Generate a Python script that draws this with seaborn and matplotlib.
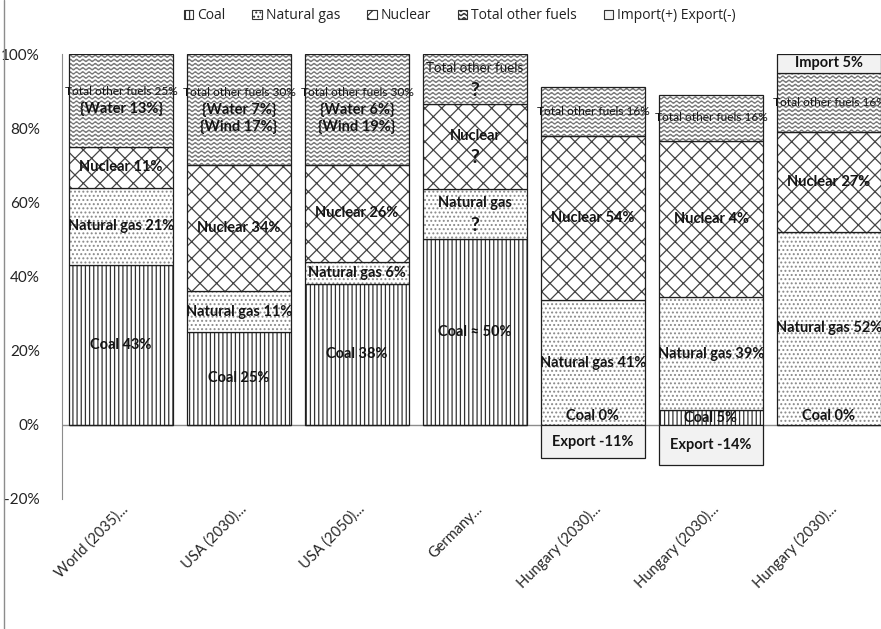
import warnings

import numpy as np
import pandas as pd
import matplotlib
matplotlib.use("Agg")
import matplotlib.pyplot as plt
import matplotlib.hatch as mhatch
import matplotlib.transforms as mtransforms
from matplotlib.path import Path
from matplotlib.patches import Patch
from matplotlib.lines import Line2D
import seaborn as sns

warnings.filterwarnings("ignore")

# ---------------------------------------------------------------- data
categories = ["World (2035)...", "USA (2030)...", "USA (2050)...", "Germany...",
              "Hungary (2030)...", "Hungary (2030)...", "Hungary (2030)..."]

coal = [43, 25, 38, 50, 0, 5, 0]
natural_gas = [21, 11, 6, 13.5, 41, 39, 52]
nuclear = [11, 34, 26, 23, 54, 54, 27]
other_fuels = [25, 30, 30, 13.5, 16, 16, 16]
import_export = [0, 0, 0, 0, -11, -14, 5]

coal_labels = ["Coal 43%", "Coal 25%", "Coal 38%", "Coal ≈ 50%",
               "Coal 0%", "Coal 5%", "Coal 0%"]
gas_labels = ["Natural gas 21%", "Natural gas 11%", "Natural gas 6%",
              "Natural gas\n?", "Natural gas 41%", "Natural gas 39%",
              "Natural gas 52%"]
nuclear_labels = ["Nuclear 11%", "Nuclear 34%", "Nuclear 26%", "Nuclear\n?",
                  "Nuclear 54%", "Nuclear 4%", "Nuclear 27%"]
other_labels = ["Total other fuels 25%\n{Water 13%}",
                "Total other fuels 30%\n{Water 7%}\n{Wind 17%}",
                "Total other fuels 30%\n{Water 6%}\n{Wind 19%}",
                "Total other fuels\n?",
                "Total other fuels 16%", "Total other fuels 16%",
                "Total other fuels 16%"]
trade_labels = ["", "", "", "", "Export -11%", "Export -14%", "Import 5%"]

legend_names = ["Coal", "Natural gas", "Nuclear", "Total other fuels",
                "Import(+) Export(-)"]


# ------------------------------------------------- wavy hatch pattern
class WavyHatch(mhatch.HatchPatternBase):
    """Horizontal wavy lines, selected with '~' in a hatch string."""
    waves = 16
    steps = 128

    def __init__(self, hatch, density):
        self.num_lines = int(hatch.count("~") * density)
        self.num_vertices = self.num_lines * (self.steps + 1)

    def set_vertices_and_codes(self, vertices, codes):
        t = np.linspace(0.0, 1.0, self.steps + 1)
        amp = 0.28 / max(self.num_lines, 1)
        n = self.steps + 1
        for i in range(self.num_lines):
            y0 = (i + 0.5) / self.num_lines
            vertices[i * n:(i + 1) * n, 0] = t
            vertices[i * n:(i + 1) * n, 1] = y0 + amp * np.sin(2 * np.pi * self.waves * t)
            codes[i * n:(i + 1) * n] = Path.LINETO
            codes[i * n] = Path.MOVETO


mhatch._hatch_types.append(WavyHatch)

# ---------------------------------------------------------------- style
sns.set_style("white")
plt.rcParams["font.family"] = ["Lato", "DejaVu Sans"]
plt.rcParams["hatch.linewidth"] = 0.9

# Shares of each column (100 % stacked: divided by the sum of magnitudes)
raw = np.array([coal, natural_gas, nuclear, other_fuels, import_export], dtype=float)
scale = 100.0 / np.abs(raw).sum(axis=0)
shares = raw * scale

pos_bottoms = np.zeros(len(categories))
bottoms = []
for row in shares[:4]:
    bottoms.append(pos_bottoms.copy())
    pos_bottoms += row
bottoms.append(np.where(shares[4] > 0, pos_bottoms, 0.0))

hatches = ["||||", "....", "xx", "~~~~", ""]
hatch_colors = ["#333333", "#8a8a8a", "#444444", "#777777", "#222222"]
faces = ["white", "white", "white", "white", "#f2f2f2"]
series_labels = [coal_labels, gas_labels, nuclear_labels, other_labels, trade_labels]

fig = plt.figure(figsize=(8.81, 6.29), dpi=100)
ax = fig.add_axes([62 / 881, 1 - 499 / 629, 826 / 881, 445 / 629])

bar_width = 0.873
slot = list(range(len(categories)))
for k in range(5):
    df = pd.DataFrame({"slot": slot, "share": shares[k]})
    # hatched fill
    sns.barplot(data=df, x="slot", y="share", ax=ax, errorbar=None,
                width=bar_width, color=faces[k], saturation=1,
                bottom=bottoms[k], hatch=hatches[k] or None,
                edgecolor=hatch_colors[k], linewidth=0)
    # segment outline
    sns.barplot(data=df, x="slot", y="share", ax=ax, errorbar=None,
                width=bar_width, color="black", saturation=1,
                bottom=bottoms[k], facecolor="none",
                edgecolor="#1e1e1e", linewidth=0.9)

ax.axhline(0, color="#8c8c8c", lw=1.0, zorder=0.5)

# ---------------------------------------------------------------- labels
text_color = "#141414"


def line_style(line):
    if line == "?":
        return dict(fontsize=14, fontweight="bold")
    if line.startswith("Total other fuels"):
        size = 8.6 if "%" in line else 9.6
        return dict(fontsize=size, fontweight="normal")
    return dict(fontsize=10.5, fontweight="bold")


for k in range(5):
    for i, label in enumerate(series_labels[k]):
        if not label:
            continue
        share = shares[k][i]
        lines = label.split("\n")
        step = 16 if "?" in lines else 12.5  # points between lines
        if share == 0:
            ax.text(i, 0.4, label, ha="center", va="bottom", color=text_color,
                    **line_style(label))
            continue
        mid = bottoms[k][i] + share / 2
        n = len(lines)
        for j, line in enumerate(lines):
            style = dict(color=text_color)
            style.update(line_style(line))
            ax.annotate(line, xy=(i, mid), xytext=(0, ((n - 1) / 2 - j) * step),
                        textcoords="offset points", ha="center", va="center",
                        annotation_clip=False, **style)

# ---------------------------------------------------------------- axes
ax.set_ylim(-20, 100)
ax.set_xlim(-0.5, len(categories) - 0.5)
ax.set_yticks(np.arange(-20, 101, 20))
ax.set_yticklabels([f"{v}%" for v in range(-20, 101, 20)])
ax.set_xticks(slot)
ax.set_xticklabels(categories, rotation=45, ha="right", rotation_mode="anchor",
                   fontsize=10.5, color="#262626")
offset = mtransforms.ScaledTranslation(14 / 100, 0, fig.dpi_scale_trans)
for lab in ax.get_xticklabels():
    lab.set_transform(lab.get_transform() + offset)
ax.set_xlabel("")
ax.set_ylabel("")
for side in ("top", "right", "bottom"):
    ax.spines[side].set_visible(False)
ax.spines["left"].set_color("#8c8c8c")
ax.tick_params(axis="y", direction="out", length=4, color="#8c8c8c",
               labelsize=11, labelcolor="#222222", pad=12)
ax.tick_params(axis="x", length=0, pad=2)
ax.grid(False)

# ---------------------------------------------------------------- legend
handles = [Patch(facecolor=faces[k], edgecolor="#333333", hatch=hatches[k] or None,
                 linewidth=0.8) for k in range(5)]
fig.legend(handles, legend_names, loc="center", bbox_to_anchor=(0.522, 0.975),
           ncol=5, frameon=False, handlelength=0.7,
           handleheight=0.7, handletextpad=0.3, columnspacing=1.9,
           labelcolor="#222222",
           prop={"family": ["Open Sans", "DejaVu Sans"], "size": 10})

# chart-area border on the left
fig.add_artist(Line2D([3.5 / 881, 3.5 / 881], [0, 1], color="#8c8c8c", lw=1.0,
                      transform=fig.transFigure))

fig.savefig("out.png", dpi=100)
